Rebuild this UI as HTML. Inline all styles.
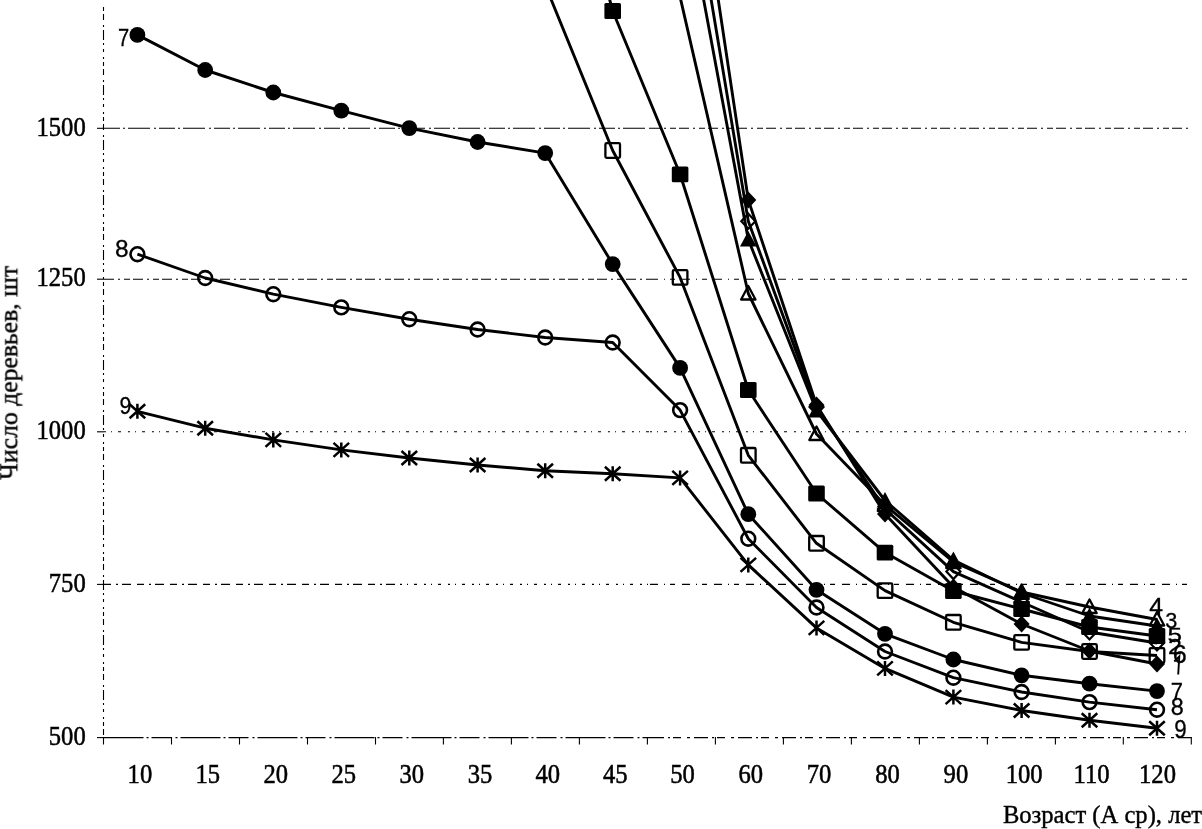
<!DOCTYPE html>
<html><head><meta charset="utf-8"><style>
html,body{margin:0;padding:0;background:#fff;}
svg{display:block;}
text{will-change:transform;}
.t{font-family:"Liberation Serif",serif;font-size:24.6px;fill:#000;stroke:#000;stroke-width:0.5px;}
.tt{font-family:"Liberation Serif",serif;font-size:24.6px;fill:#000;stroke:#000;stroke-width:0.4px;}
.ty{font-family:"Liberation Serif",serif;font-size:25.7px;fill:#000;stroke:#000;stroke-width:0.4px;}
.l{font-family:"Liberation Sans",sans-serif;fill:#000;stroke:#000;stroke-width:0.3px;}
</style></head><body>
<svg width="1202" height="829" viewBox="0 0 1202 829">
<rect width="1202" height="829" fill="#fff"/>
<line x1="104" y1="128.3" x2="650" y2="128.3" stroke="#000" stroke-width="1.1" stroke-dasharray="16 3 2 3 22 4 2 3"/>
<line x1="650" y1="128.3" x2="1191" y2="128.3" stroke="#000" stroke-width="1.1" stroke-dasharray="10 4 2 4 6 3"/>
<line x1="104" y1="279.2" x2="650" y2="279.2" stroke="#000" stroke-width="1.1" stroke-dasharray="10 4 2 4 6 3"/>
<line x1="650" y1="279.2" x2="1191" y2="279.2" stroke="#000" stroke-width="1.1" stroke-dasharray="8 6 1 5 5 7"/>
<line x1="104" y1="431.8" x2="650" y2="431.8" stroke="#000" stroke-width="1.1" stroke-dasharray="2 5 1 6 3 7"/>
<line x1="650" y1="431.8" x2="1191" y2="431.8" stroke="#000" stroke-width="1.1" stroke-dasharray="2 5 1 6 3 7"/>
<line x1="104" y1="584.4" x2="400" y2="584.4" stroke="#000" stroke-width="1.1" stroke-dasharray="7 5 2 4 9 6"/>
<line x1="400" y1="584.4" x2="650" y2="584.4" stroke="#000" stroke-width="1.1" stroke-dasharray="2 5 1 6 3 7"/>
<line x1="650" y1="584.4" x2="1191" y2="584.4" stroke="#000" stroke-width="1.1" stroke-dasharray="8 6 1 5 5 7"/>
<line x1="103.5" y1="7" x2="103.5" y2="738" stroke="#000" stroke-width="1.1" stroke-dasharray="4 3 6 5 2 3 10 3 2 4 3 5 2 3"/>
<line x1="97" y1="128.3" x2="104" y2="128.3" stroke="#000" stroke-width="1.1"/>
<line x1="97" y1="279.2" x2="104" y2="279.2" stroke="#000" stroke-width="1.1"/>
<line x1="97" y1="431.8" x2="104" y2="431.8" stroke="#000" stroke-width="1.1"/>
<line x1="97" y1="584.4" x2="104" y2="584.4" stroke="#000" stroke-width="1.1"/>
<line x1="97" y1="737.6" x2="104" y2="737.6" stroke="#000" stroke-width="1.1"/>
<line x1="103.5" y1="737.6" x2="650" y2="737.6" stroke="#000" stroke-width="1.2" stroke-dasharray="40 3 2 3 20 4 2 3"/>
<line x1="650" y1="737.6" x2="1191.5" y2="737.6" stroke="#000" stroke-width="1.2" stroke-dasharray="14 4 2 3 8 6 3 4"/>
<line x1="103.5" y1="737" x2="103.5" y2="744.5" stroke="#000" stroke-width="1.1"/>
<line x1="171.5" y1="737" x2="171.5" y2="744.5" stroke="#000" stroke-width="1.1"/>
<line x1="239.5" y1="737" x2="239.5" y2="744.5" stroke="#000" stroke-width="1.1"/>
<line x1="307.5" y1="737" x2="307.5" y2="744.5" stroke="#000" stroke-width="1.1"/>
<line x1="375.5" y1="737" x2="375.5" y2="744.5" stroke="#000" stroke-width="1.1"/>
<line x1="443.4" y1="737" x2="443.4" y2="744.5" stroke="#000" stroke-width="1.1"/>
<line x1="511.4" y1="737" x2="511.4" y2="744.5" stroke="#000" stroke-width="1.1"/>
<line x1="579.4" y1="737" x2="579.4" y2="744.5" stroke="#000" stroke-width="1.1"/>
<line x1="647.4" y1="737" x2="647.4" y2="744.5" stroke="#000" stroke-width="1.1"/>
<line x1="715.4" y1="737" x2="715.4" y2="744.5" stroke="#000" stroke-width="1.1"/>
<line x1="783.4" y1="737" x2="783.4" y2="744.5" stroke="#000" stroke-width="1.1"/>
<line x1="851.4" y1="737" x2="851.4" y2="744.5" stroke="#000" stroke-width="1.1"/>
<line x1="919.4" y1="737" x2="919.4" y2="744.5" stroke="#000" stroke-width="1.1"/>
<line x1="987.4" y1="737" x2="987.4" y2="744.5" stroke="#000" stroke-width="1.1"/>
<line x1="1055.4" y1="737" x2="1055.4" y2="744.5" stroke="#000" stroke-width="1.1"/>
<line x1="1123.3" y1="737" x2="1123.3" y2="744.5" stroke="#000" stroke-width="1.1"/>
<line x1="1191.3" y1="737" x2="1191.3" y2="744.5" stroke="#000" stroke-width="1.1"/>
<polyline points="680.1,-254.5 748.3,199.9 816.5,405.0 885.0,514.0 953.4,587.0 1021.6,624.0 1089.5,651.0 1157.0,664.0" fill="none" stroke="#000" stroke-width="2.9" stroke-linejoin="round"/>
<polyline points="680.1,-185.4 748.3,221.2 816.5,407.0 885.0,509.0 953.4,571.6 1021.6,602.0 1089.5,632.0 1157.0,643.0" fill="none" stroke="#000" stroke-width="2.9" stroke-linejoin="round"/>
<polyline points="680.1,-126.7 748.3,239.5 816.5,410.5 885.0,500.5 953.4,560.0 1021.6,593.0 1089.5,616.0 1157.0,626.0" fill="none" stroke="#000" stroke-width="2.9" stroke-linejoin="round"/>
<polyline points="680.1,-3.0 748.3,293.5 816.5,434.0 885.0,505.0 953.4,562.0 1021.6,592.0 1089.5,607.0 1157.0,619.5" fill="none" stroke="#000" stroke-width="2.9" stroke-linejoin="round"/>
<polyline points="545.2,-240.0 612.7,11.0 680.1,174.3 748.3,390.0 816.5,493.5 885.0,552.6 953.4,591.0 1021.6,609.0 1089.5,627.0 1157.0,636.0" fill="none" stroke="#000" stroke-width="2.9" stroke-linejoin="round"/>
<polyline points="545.2,-15.0 612.7,150.5 680.1,277.4 748.3,455.3 816.5,543.3 885.0,590.6 953.4,622.3 1021.6,642.4 1089.5,651.5 1157.0,655.5" fill="none" stroke="#000" stroke-width="2.9" stroke-linejoin="round"/>
<polyline points="137.4,34.9 205.2,70.0 273.3,92.5 341.3,110.7 409.3,128.2 477.6,142.0 545.2,153.1 612.7,264.1 680.1,367.9 748.3,514.2 816.5,589.8 885.0,633.8 953.4,659.5 1021.6,675.3 1089.5,683.7 1157.0,691.1" fill="none" stroke="#000" stroke-width="2.9" stroke-linejoin="round"/>
<polyline points="137.4,254.2 205.2,278.0 273.3,294.2 341.3,307.4 409.3,319.2 477.6,329.5 545.2,337.5 612.7,342.5 680.1,410.1 748.3,538.7 816.5,607.5 885.0,651.5 953.4,677.7 1021.6,692.0 1089.5,702.1 1157.0,709.7" fill="none" stroke="#000" stroke-width="2.9" stroke-linejoin="round"/>
<polyline points="137.4,411.3 205.2,428.2 273.3,439.9 341.3,449.9 409.3,458.0 477.6,465.0 545.2,470.7 612.7,473.7 680.1,477.9 748.3,564.9 816.5,627.9 885.0,668.4 953.4,697.1 1021.6,710.5 1089.5,720.2 1157.0,728.2" fill="none" stroke="#000" stroke-width="2.9" stroke-linejoin="round"/>

<path d="M748.3,191.4L756.3,199.9L748.3,208.4L740.3,199.9Z" fill="#000"/>
<path d="M816.5,396.5L824.5,405.0L816.5,413.5L808.5,405.0Z" fill="#000"/>
<path d="M885.0,505.5L893.0,514.0L885.0,522.5L877.0,514.0Z" fill="#000"/>
<path d="M953.4,578.5L961.4,587.0L953.4,595.5L945.4,587.0Z" fill="#000"/>
<path d="M1021.6,615.5L1029.6,624.0L1021.6,632.5L1013.6,624.0Z" fill="#000"/>
<path d="M1089.5,642.5L1097.5,651.0L1089.5,659.5L1081.5,651.0Z" fill="#000"/>
<path d="M1157.0,655.5L1165.0,664.0L1157.0,672.5L1149.0,664.0Z" fill="#000"/>

<path d="M748.3,213.7L755.3,221.2L748.3,228.7L741.3,221.2Z" fill="none" stroke="#000" stroke-width="2.2"/>
<path d="M816.5,399.5L823.5,407.0L816.5,414.5L809.5,407.0Z" fill="none" stroke="#000" stroke-width="2.2"/>
<path d="M885.0,501.5L892.0,509.0L885.0,516.5L878.0,509.0Z" fill="none" stroke="#000" stroke-width="2.2"/>
<path d="M953.4,564.1L960.4,571.6L953.4,579.1L946.4,571.6Z" fill="none" stroke="#000" stroke-width="2.2"/>
<path d="M1021.6,594.5L1028.6,602.0L1021.6,609.5L1014.6,602.0Z" fill="none" stroke="#000" stroke-width="2.2"/>
<path d="M1089.5,624.5L1096.5,632.0L1089.5,639.5L1082.5,632.0Z" fill="none" stroke="#000" stroke-width="2.2"/>
<path d="M1157.0,635.5L1164.0,643.0L1157.0,650.5L1150.0,643.0Z" fill="none" stroke="#000" stroke-width="2.2"/>

<path d="M748.3,231.0L756.6,246.5L740.0,246.5Z" fill="#000"/>
<path d="M816.5,402.0L824.8,417.5L808.2,417.5Z" fill="#000"/>
<path d="M885.0,492.0L893.3,507.5L876.7,507.5Z" fill="#000"/>
<path d="M953.4,551.5L961.7,567.0L945.1,567.0Z" fill="#000"/>
<path d="M1021.6,584.5L1029.9,600.0L1013.3,600.0Z" fill="#000"/>
<path d="M1089.5,607.5L1097.8,623.0L1081.2,623.0Z" fill="#000"/>
<path d="M1157.0,617.5L1165.3,633.0L1148.7,633.0Z" fill="#000"/>

<path d="M748.3,286.0L755.5,299.5L741.1,299.5Z" fill="none" stroke="#000" stroke-width="2.3" stroke-linejoin="round"/>
<path d="M816.5,426.5L823.7,440.0L809.3,440.0Z" fill="none" stroke="#000" stroke-width="2.3" stroke-linejoin="round"/>
<path d="M885.0,497.5L892.2,511.0L877.8,511.0Z" fill="none" stroke="#000" stroke-width="2.3" stroke-linejoin="round"/>
<path d="M953.4,554.5L960.6,568.0L946.2,568.0Z" fill="none" stroke="#000" stroke-width="2.3" stroke-linejoin="round"/>
<path d="M1021.6,584.5L1028.8,598.0L1014.4,598.0Z" fill="none" stroke="#000" stroke-width="2.3" stroke-linejoin="round"/>
<path d="M1089.5,599.5L1096.7,613.0L1082.3,613.0Z" fill="none" stroke="#000" stroke-width="2.3" stroke-linejoin="round"/>
<path d="M1157.0,612.0L1164.2,625.5L1149.8,625.5Z" fill="none" stroke="#000" stroke-width="2.3" stroke-linejoin="round"/>

<rect x="604.4" y="3.1" width="16.6" height="15.8" rx="1.5" fill="#000"/>
<rect x="671.8" y="166.4" width="16.6" height="15.8" rx="1.5" fill="#000"/>
<rect x="740.0" y="382.1" width="16.6" height="15.8" rx="1.5" fill="#000"/>
<rect x="808.2" y="485.6" width="16.6" height="15.8" rx="1.5" fill="#000"/>
<rect x="876.7" y="544.7" width="16.6" height="15.8" rx="1.5" fill="#000"/>
<rect x="945.1" y="583.1" width="16.6" height="15.8" rx="1.5" fill="#000"/>
<rect x="1013.3" y="601.1" width="16.6" height="15.8" rx="1.5" fill="#000"/>
<rect x="1081.2" y="619.1" width="16.6" height="15.8" rx="1.5" fill="#000"/>
<rect x="1148.7" y="628.1" width="16.6" height="15.8" rx="1.5" fill="#000"/>

<rect x="605.4" y="143.2" width="14.6" height="14.6" rx="1.2" fill="none" stroke="#000" stroke-width="2.3"/>
<rect x="672.8" y="270.1" width="14.6" height="14.6" rx="1.2" fill="none" stroke="#000" stroke-width="2.3"/>
<rect x="741.0" y="448.0" width="14.6" height="14.6" rx="1.2" fill="none" stroke="#000" stroke-width="2.3"/>
<rect x="809.2" y="536.0" width="14.6" height="14.6" rx="1.2" fill="none" stroke="#000" stroke-width="2.3"/>
<rect x="877.7" y="583.3" width="14.6" height="14.6" rx="1.2" fill="none" stroke="#000" stroke-width="2.3"/>
<rect x="946.1" y="615.0" width="14.6" height="14.6" rx="1.2" fill="none" stroke="#000" stroke-width="2.3"/>
<rect x="1014.3" y="635.1" width="14.6" height="14.6" rx="1.2" fill="none" stroke="#000" stroke-width="2.3"/>
<rect x="1082.2" y="644.2" width="14.6" height="14.6" rx="1.2" fill="none" stroke="#000" stroke-width="2.3"/>
<rect x="1149.7" y="648.2" width="14.6" height="14.6" rx="1.2" fill="none" stroke="#000" stroke-width="2.3"/>
<circle cx="137.4" cy="34.9" r="7.9" fill="#000"/>
<circle cx="205.2" cy="70.0" r="7.9" fill="#000"/>
<circle cx="273.3" cy="92.5" r="7.9" fill="#000"/>
<circle cx="341.3" cy="110.7" r="7.9" fill="#000"/>
<circle cx="409.3" cy="128.2" r="7.9" fill="#000"/>
<circle cx="477.6" cy="142.0" r="7.9" fill="#000"/>
<circle cx="545.2" cy="153.1" r="7.9" fill="#000"/>
<circle cx="612.7" cy="264.1" r="7.9" fill="#000"/>
<circle cx="680.1" cy="367.9" r="7.9" fill="#000"/>
<circle cx="748.3" cy="514.2" r="7.9" fill="#000"/>
<circle cx="816.5" cy="589.8" r="7.9" fill="#000"/>
<circle cx="885.0" cy="633.8" r="7.9" fill="#000"/>
<circle cx="953.4" cy="659.5" r="7.9" fill="#000"/>
<circle cx="1021.6" cy="675.3" r="7.9" fill="#000"/>
<circle cx="1089.5" cy="683.7" r="7.9" fill="#000"/>
<circle cx="1157.0" cy="691.1" r="7.9" fill="#000"/>
<circle cx="137.4" cy="254.2" r="6.9" fill="none" stroke="#000" stroke-width="2.6"/>
<circle cx="205.2" cy="278.0" r="6.9" fill="none" stroke="#000" stroke-width="2.6"/>
<circle cx="273.3" cy="294.2" r="6.9" fill="none" stroke="#000" stroke-width="2.6"/>
<circle cx="341.3" cy="307.4" r="6.9" fill="none" stroke="#000" stroke-width="2.6"/>
<circle cx="409.3" cy="319.2" r="6.9" fill="none" stroke="#000" stroke-width="2.6"/>
<circle cx="477.6" cy="329.5" r="6.9" fill="none" stroke="#000" stroke-width="2.6"/>
<circle cx="545.2" cy="337.5" r="6.9" fill="none" stroke="#000" stroke-width="2.6"/>
<circle cx="612.7" cy="342.5" r="6.9" fill="none" stroke="#000" stroke-width="2.6"/>
<circle cx="680.1" cy="410.1" r="6.9" fill="none" stroke="#000" stroke-width="2.6"/>
<circle cx="748.3" cy="538.7" r="6.9" fill="none" stroke="#000" stroke-width="2.6"/>
<circle cx="816.5" cy="607.5" r="6.9" fill="none" stroke="#000" stroke-width="2.6"/>
<circle cx="885.0" cy="651.5" r="6.9" fill="none" stroke="#000" stroke-width="2.6"/>
<circle cx="953.4" cy="677.7" r="6.9" fill="none" stroke="#000" stroke-width="2.6"/>
<circle cx="1021.6" cy="692.0" r="6.9" fill="none" stroke="#000" stroke-width="2.6"/>
<circle cx="1089.5" cy="702.1" r="6.9" fill="none" stroke="#000" stroke-width="2.6"/>
<circle cx="1157.0" cy="709.7" r="6.9" fill="none" stroke="#000" stroke-width="2.6"/>
<path d="M137.4,403.8V418.8M129.6,404.3L145.2,418.3M145.2,404.3L129.6,418.3" stroke="#000" stroke-width="2.5" fill="none"/>
<path d="M205.2,420.7V435.7M197.4,421.2L213.0,435.2M213.0,421.2L197.4,435.2" stroke="#000" stroke-width="2.5" fill="none"/>
<path d="M273.3,432.4V447.4M265.5,432.9L281.1,446.9M281.1,432.9L265.5,446.9" stroke="#000" stroke-width="2.5" fill="none"/>
<path d="M341.3,442.4V457.4M333.5,442.9L349.1,456.9M349.1,442.9L333.5,456.9" stroke="#000" stroke-width="2.5" fill="none"/>
<path d="M409.3,450.5V465.5M401.5,451.0L417.1,465.0M417.1,451.0L401.5,465.0" stroke="#000" stroke-width="2.5" fill="none"/>
<path d="M477.6,457.5V472.5M469.8,458.0L485.4,472.0M485.4,458.0L469.8,472.0" stroke="#000" stroke-width="2.5" fill="none"/>
<path d="M545.2,463.2V478.2M537.4,463.7L553.0,477.7M553.0,463.7L537.4,477.7" stroke="#000" stroke-width="2.5" fill="none"/>
<path d="M612.7,466.2V481.2M604.9,466.7L620.5,480.7M620.5,466.7L604.9,480.7" stroke="#000" stroke-width="2.5" fill="none"/>
<path d="M680.1,470.4V485.4M672.3,470.9L687.9,484.9M687.9,470.9L672.3,484.9" stroke="#000" stroke-width="2.5" fill="none"/>
<path d="M748.3,557.4V572.4M740.5,557.9L756.1,571.9M756.1,557.9L740.5,571.9" stroke="#000" stroke-width="2.5" fill="none"/>
<path d="M816.5,620.4V635.4M808.7,620.9L824.3,634.9M824.3,620.9L808.7,634.9" stroke="#000" stroke-width="2.5" fill="none"/>
<path d="M885.0,660.9V675.9M877.2,661.4L892.8,675.4M892.8,661.4L877.2,675.4" stroke="#000" stroke-width="2.5" fill="none"/>
<path d="M953.4,689.6V704.6M945.6,690.1L961.2,704.1M961.2,690.1L945.6,704.1" stroke="#000" stroke-width="2.5" fill="none"/>
<path d="M1021.6,703.0V718.0M1013.8,703.5L1029.4,717.5M1029.4,703.5L1013.8,717.5" stroke="#000" stroke-width="2.5" fill="none"/>
<path d="M1089.5,712.7V727.7M1081.7,713.2L1097.3,727.2M1097.3,713.2L1081.7,727.2" stroke="#000" stroke-width="2.5" fill="none"/>
<path d="M1157.0,720.7V735.7M1149.2,721.2L1164.8,735.2M1164.8,721.2L1149.2,735.2" stroke="#000" stroke-width="2.5" fill="none"/>
<text x="85.7" y="135.6" text-anchor="end" class="t" transform="translate(0 135.6) scale(1 1.1) translate(0 -135.6)">1500</text>
<text x="85.7" y="286.5" text-anchor="end" class="t" transform="translate(0 286.5) scale(1 1.1) translate(0 -286.5)">1250</text>
<text x="85.7" y="439.1" text-anchor="end" class="t" transform="translate(0 439.1) scale(1 1.1) translate(0 -439.1)">1000</text>
<text x="85.7" y="591.7" text-anchor="end" class="t" transform="translate(0 591.7) scale(1 1.1) translate(0 -591.7)">750</text>
<text x="85.7" y="744.9" text-anchor="end" class="t" transform="translate(0 744.9) scale(1 1.1) translate(0 -744.9)">500</text>
<text x="139.9" y="783.5" text-anchor="middle" class="t" transform="translate(0 783.5) scale(1 1.1) translate(0 -783.5)">10</text>
<text x="207.7" y="783.5" text-anchor="middle" class="t" transform="translate(0 783.5) scale(1 1.1) translate(0 -783.5)">15</text>
<text x="275.8" y="783.5" text-anchor="middle" class="t" transform="translate(0 783.5) scale(1 1.1) translate(0 -783.5)">20</text>
<text x="343.8" y="783.5" text-anchor="middle" class="t" transform="translate(0 783.5) scale(1 1.1) translate(0 -783.5)">25</text>
<text x="411.8" y="783.5" text-anchor="middle" class="t" transform="translate(0 783.5) scale(1 1.1) translate(0 -783.5)">30</text>
<text x="480.1" y="783.5" text-anchor="middle" class="t" transform="translate(0 783.5) scale(1 1.1) translate(0 -783.5)">35</text>
<text x="547.7" y="783.5" text-anchor="middle" class="t" transform="translate(0 783.5) scale(1 1.1) translate(0 -783.5)">40</text>
<text x="615.2" y="783.5" text-anchor="middle" class="t" transform="translate(0 783.5) scale(1 1.1) translate(0 -783.5)">45</text>
<text x="682.6" y="783.5" text-anchor="middle" class="t" transform="translate(0 783.5) scale(1 1.1) translate(0 -783.5)">50</text>
<text x="750.8" y="783.5" text-anchor="middle" class="t" transform="translate(0 783.5) scale(1 1.1) translate(0 -783.5)">60</text>
<text x="819.0" y="783.5" text-anchor="middle" class="t" transform="translate(0 783.5) scale(1 1.1) translate(0 -783.5)">70</text>
<text x="887.5" y="783.5" text-anchor="middle" class="t" transform="translate(0 783.5) scale(1 1.1) translate(0 -783.5)">80</text>
<text x="955.9" y="783.5" text-anchor="middle" class="t" transform="translate(0 783.5) scale(1 1.1) translate(0 -783.5)">90</text>
<text x="1024.1" y="783.5" text-anchor="middle" class="t" transform="translate(0 783.5) scale(1 1.1) translate(0 -783.5)">100</text>
<text x="1091.5" y="783.5" text-anchor="middle" class="t" transform="translate(0 783.5) scale(1 1.1) translate(0 -783.5)">110</text>
<text x="1157.5" y="783.5" text-anchor="middle" class="t" transform="translate(0 783.5) scale(1 1.1) translate(0 -783.5)">120</text>
<text x="1202.1" y="823.2" text-anchor="end" class="tt">Возраст (А ср), лет</text>
<text x="0" y="0" text-anchor="middle" class="ty" transform="translate(17.3 372.8) rotate(-90)">Число деревьев, шт</text>
<path d="M1174.3,661.5L1179.3,656.5L1178.2,674.5" fill="none" stroke="#000" stroke-width="1.9"/>
<text x="0" y="0" class="l" font-size="24.1" transform="translate(118.1 45.7) scale(0.837 1)">7</text>
<text x="0" y="0" class="l" font-size="24.0" transform="translate(115.1 256.6) scale(1.020 1)">8</text>
<text x="0" y="0" class="l" font-size="23.6" transform="translate(119.5 413.9) scale(0.903 1)">9</text>
<text x="0" y="0" class="l" font-size="23.1" transform="translate(1149.2 615.2) scale(1.076 1)">4</text>
<text x="0" y="0" class="l" font-size="21.9" transform="translate(1165.2 628.2) scale(0.993 1)">3</text>
<text x="0" y="0" class="l" font-size="20.6" transform="translate(1167.5 642.1) scale(1.272 1)">5</text>
<text x="0" y="0" class="l" font-size="21.4" transform="translate(1168.1 653.9) scale(1.172 1)">2</text>
<text x="0" y="0" class="l" font-size="24.9" transform="translate(1172.7 662.6) scale(1.010 1)">6</text>
<text x="0" y="0" class="l" font-size="24.7" transform="translate(1170.8 700.2) scale(0.887 1)">7</text>
<text x="0" y="0" class="l" font-size="23.6" transform="translate(1170.7 715.4) scale(0.993 1)">8</text>
<text x="0" y="0" class="l" font-size="26.0" transform="translate(1174.2 737.8) scale(0.859 1)">9</text>
</svg>
</body></html>
